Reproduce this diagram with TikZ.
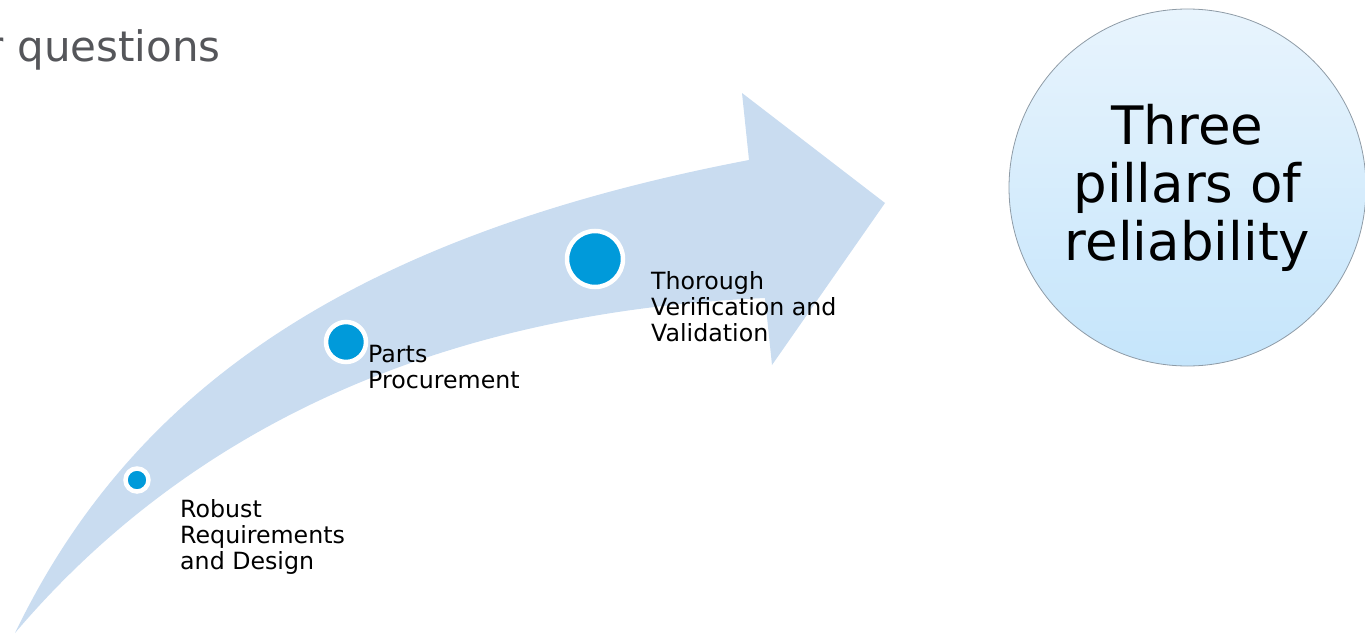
\documentclass[tikz,border=0pt]{standalone}
\usepackage{fontspec}
\setmainfont{DejaVu Sans}
\usetikzlibrary{positioning}

\definecolor{bandblue}{RGB}{201,220,240}
\definecolor{dotblue}{RGB}{0,154,218}
\definecolor{headgray}{RGB}{85,86,90}
\definecolor{bigtop}{RGB}{232,244,253}
\definecolor{bigbottom}{RGB}{197,229,251}
\definecolor{bigline}{RGB}{142,155,166}

\tikzset{
  dot/.style={circle, fill=dotblue, draw=white, line width=4.5pt, inner sep=0pt},
  steplabel/.style={anchor=base west, align=left, inner sep=0pt,
    font=\fontsize{23.7}{26}\selectfont},
  pillar/.style={circle, inner sep=0pt, minimum size=357pt, draw=bigline,
    line width=0.8pt, top color=bigtop, bottom color=bigbottom,
    align=center, font=\fontsize{53}{58}\selectfont}
}

\begin{document}
\begin{tikzpicture}[x=1pt,y=-1pt]
\useasboundingbox (0,0) rectangle (1365,634);

% curved arrow
\fill [bandblue] (15,633) .. controls (125,405) and (330,240) .. (749,160)
  -- (742,93) -- (885,203) -- (772,365) -- (765,298)
  .. controls (370,315) and (145,480) .. (15,633) -- cycle;

\node [anchor=base east, inner sep=0pt, text=headgray,
  font=\fontsize{42}{48}\selectfont] (head) at (221,62) {r questions};

\node [dot, minimum size=23pt] (robust) at (137,480) {};
\node [dot, minimum size=40pt] (parts) at (346,342) {};
\node [dot, minimum size=56pt] (thorough) at (595,259) {};

% base = last line
\node [steplabel] (robustlbl) at (180,569) {Robust\\Requirements\\and Design};
\node [steplabel] (partslbl) at (368,388) {Parts\\Procurement};
\node [steplabel] (thoroughlbl) at (651,341) {Thorough\\Verification and\\Validation};

\node [pillar] (pillars) at (1187.5,187.5) {Three\\pillars of\\reliability};
\end{tikzpicture}
\end{document}
